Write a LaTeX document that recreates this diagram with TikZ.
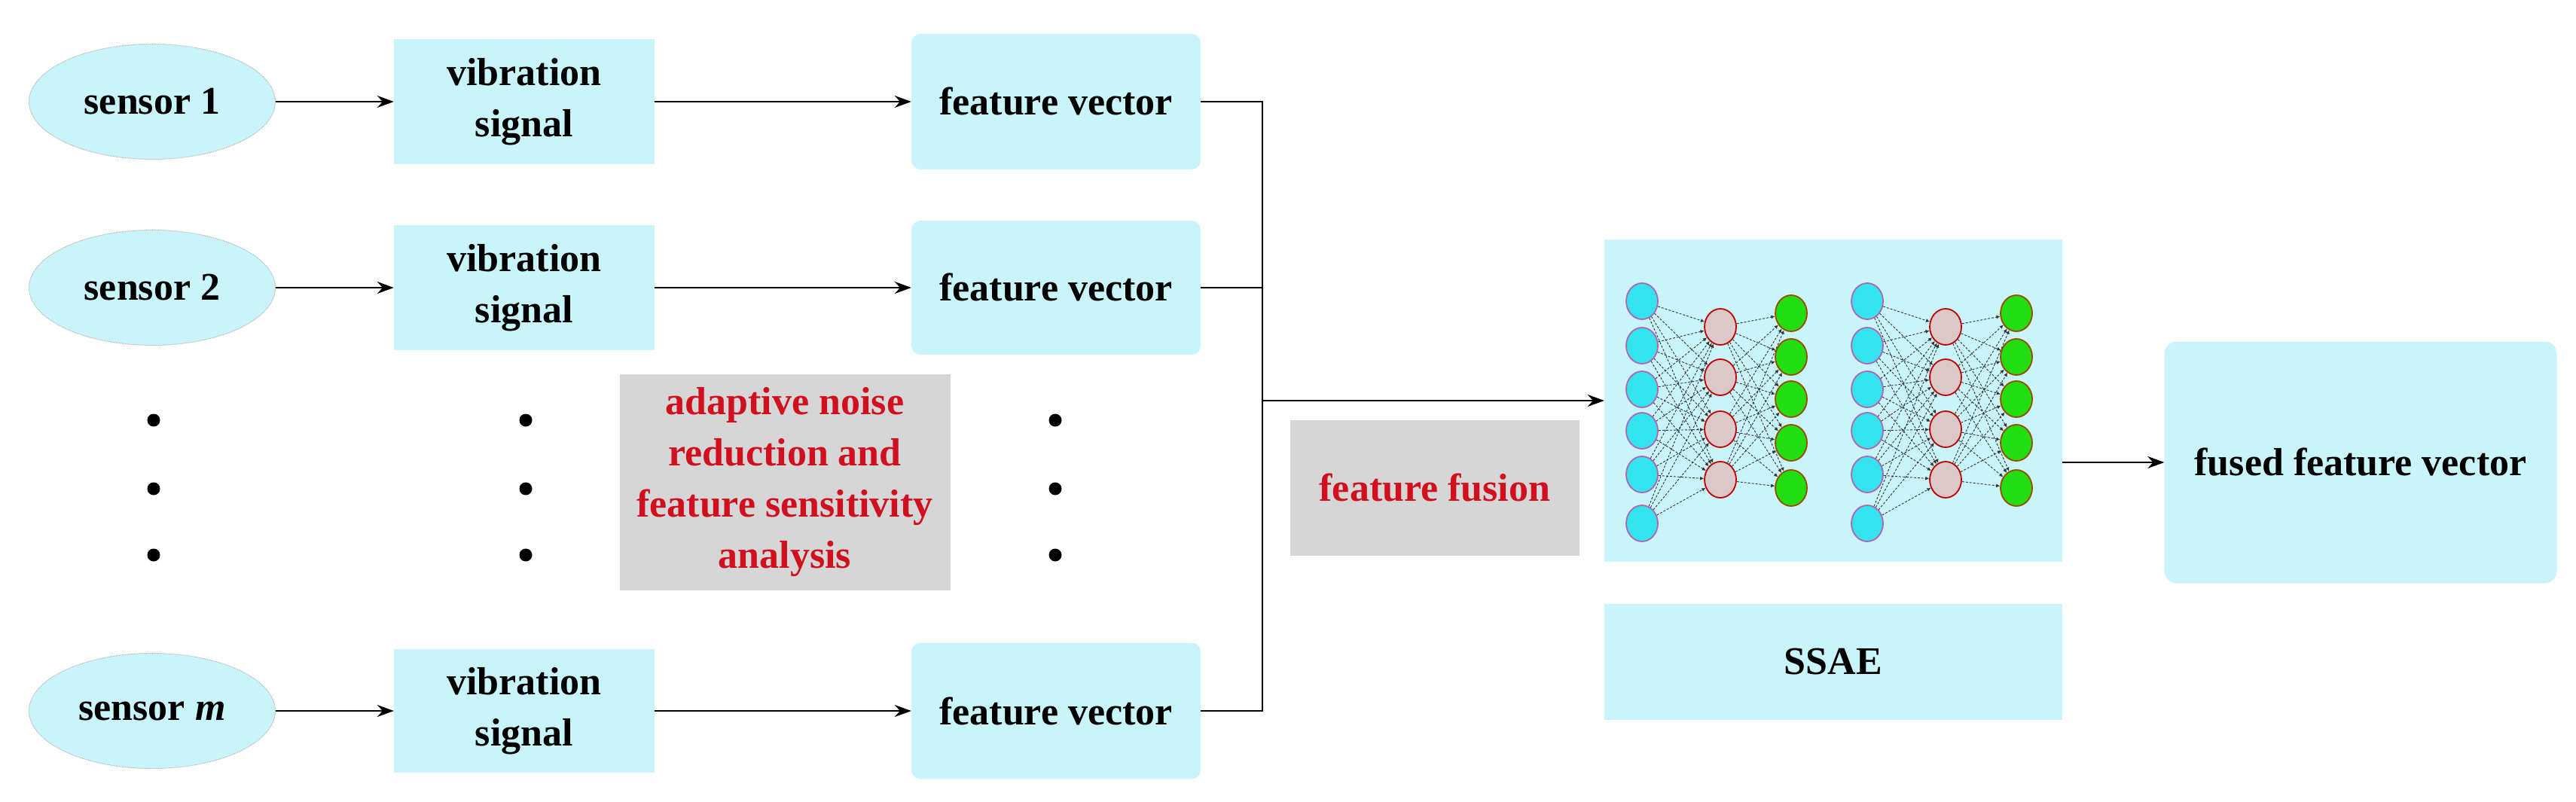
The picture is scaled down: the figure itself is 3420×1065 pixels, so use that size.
\documentclass[tikz,border=0pt]{standalone}
\usepackage{fontspec}
\setmainfont{Liberation Serif}
\usetikzlibrary{shapes.geometric,arrows.meta}
\definecolor{lc}{HTML}{C9F4F9}
\definecolor{gb}{HTML}{D6D6D6}
\definecolor{rt}{HTML}{D0101E}
\definecolor{nb}{HTML}{33E3EE}
\definecolor{np}{HTML}{DCC8C8}
\definecolor{ng}{HTML}{22DD11}
\begin{document}
\begin{tikzpicture}[x=1pt,y=-1pt,
  txt/.style={font=\fontsize{52}{68}\selectfont\bfseries, align=center, inner sep=0pt},
  box/.style={txt, fill=lc, draw=none, minimum width=#1},
  sen/.style={txt, ellipse, fill=lc, draw=gray!60, densely dotted, line width=1pt, minimum width=327pt, minimum height=153pt},
  gray box/.style={txt, fill=gb, text=rt},
  arr/.style={-{Stealth[length=22pt,width=16pt]}, line width=2.5pt},
  ln/.style={line width=2.5pt},
  dot/.style={circle, fill=black, inner sep=0pt, minimum size=17pt},
  nc/.style={ellipse, minimum width=42pt, minimum height=48pt, inner sep=0pt, line width=1.8pt},
  ed/.style={densely dashed, line width=0.9pt, black!80}]
\useasboundingbox (0,0) rectangle (3420,1065);
% sensors
\node[sen] (s1) at (202,135) {sensor 1};
\node[sen] (s2) at (202,382) {sensor 2};
\node[sen] (sm) at (202,944) {sensor \textit{m}};
% vibration
\node[box=346pt, minimum height=165pt] (v1) at (696,135) {vibration\\signal};
\node[box=346pt, minimum height=166pt] (v2) at (696,382) {vibration\\signal};
\node[box=346pt, minimum height=164pt] (vm) at (696,944) {vibration\\signal};
% feature vectors
\node[box=384pt, minimum height=180pt, rounded corners=12pt] (f1) at (1402,135) {feature vector};
\node[box=384pt, minimum height=178pt, rounded corners=12pt] (f2) at (1402,382) {feature vector};
\node[box=384pt, minimum height=181pt, rounded corners=12pt] (fm) at (1402,944) {feature vector};
\foreach \a/\b in {s1/v1,s2/v2,sm/vm,v1/f1,v2/f2,vm/fm} \draw[arr] (\a) -- (\b);
% dots
\foreach \x/\n in {204/a,698/b,1401/c} {
  \node[dot] (d\n1) at (\x,558) {};
  \node[dot] (d\n2) at (\x,649) {};
  \node[dot] (d\n3) at (\x,737) {};
}
% gray boxes
\node[gray box, minimum width=439pt, minimum height=287pt] (an) at (1042,640) {adaptive noise\\reduction and\\feature sensitivity\\analysis};
\node[gray box, minimum width=384pt, minimum height=180pt] (ff) at (1905,648) {feature fusion};
% bracket
\coordinate (bt) at (1676,135);
\coordinate (bb) at (1676,944);
\coordinate (bj) at (1676,532);
\draw[ln] (f1.east) -- (bt) -- (bb) -- (fm.east);
\draw[ln] (f2.east) -- (f2.east -| bt);
% network
\node[fill=lc, minimum width=608pt, minimum height=428pt, inner sep=0pt] (net) at (2434,532) {};
\node[box=608pt, minimum height=154pt] (ssae) at (2434,879) {SSAE};
\draw[arr] (bj) -- (bj -| net.west);
\foreach \o/\k in {0/A,299/B} {
  \foreach \y [count=\i] in {400,459,517,572,630,695}
    \node[nc, fill=nb, draw=red!50!blue!60] (\k b\i) at (2180+\o,\y) {};
  \foreach \y [count=\i] in {434,501,570,637}
    \node[nc, fill=np, draw=red!75!black] (\k p\i) at (2284+\o,\y) {};
  \foreach \y [count=\i] in {416,474,530,588,648}
    \node[nc, fill=ng, draw=orange!60!black] (\k g\i) at (2378+\o,\y) {};
  \foreach \i in {1,...,6} \foreach \j in {1,...,4}
    \draw[ed, -{Latex[length=5pt,width=5pt]}] (\k b\i) -- (\k p\j);
  \foreach \i in {1,...,4} \foreach \j in {1,...,5}
    \draw[ed, -{Latex[length=5pt,width=5pt]}] (\k p\i) -- (\k g\j);
}
% fused
\node[box=521pt, minimum height=321pt, rounded corners=16pt] (fu) at (3134,614) {fused feature vector};
\draw[arr] (net.east |- fu.west) -- (fu.west);
\end{tikzpicture}
\end{document}
